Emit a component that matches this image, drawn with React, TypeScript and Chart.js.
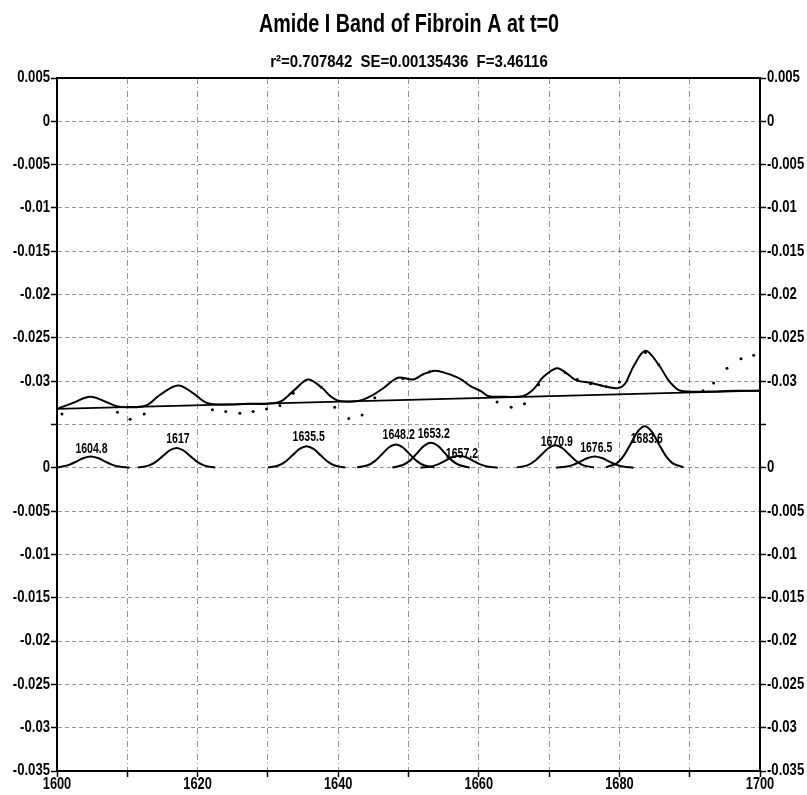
import React, { useEffect, useRef } from 'react';
import { Chart, registerables } from 'chart.js';

Chart.register(...registerables);

const FONT = "'Liberation Sans', Arial, sans-serif";

const TITLE = 'Amide I Band of Fibroin A at t=0';
const SUBTITLE = 'r²=0.707842  SE=0.00135436  F=3.46116';

// upper panel values are shifted by this amount onto the shared axis
const UPPER_OFFSET = 0.04;

// y tick labels, top to bottom (upper panel, boundary, lower panel)
const yTickLabels = [
  '0.005', '0', '-0.005', '-0.01', '-0.015', '-0.02', '-0.025', '-0.03',
  '',
  '0', '-0.005', '-0.01', '-0.015', '-0.02', '-0.025', '-0.03', '-0.035',
];
const xTickLabels = ['1600', '1620', '1640', '1660', '1680', '1700'];

// upper panel: linear baseline
const baselineX = [1600, 1700];
const baselineY = [-0.0332, -0.0311];

// upper panel: fitted curve
const fitX = [
  1600, 1602.3, 1604.7, 1607.0, 1608.5, 1610.1, 1612.7, 1614.6, 1617.2, 1619.4,
  1621.3, 1624.6, 1627.0, 1630.0, 1631.9, 1633.8, 1635.7, 1637.6, 1639.0, 1640.2,
  1642.8, 1644.7, 1646.6, 1648.5, 1650.7, 1652.1, 1653.8, 1655.4, 1657.3, 1658.7,
  1660.4, 1661.3, 1663.0, 1666.3, 1667.7, 1669.2, 1671.1, 1672.5, 1673.9, 1676.0,
  1677.9, 1679.8, 1680.8, 1682.0, 1683.7, 1685.5, 1687.0, 1688.4, 1689.8, 1692.6,
  1696.4, 1700,
];
const fitY = [
  -0.0332, -0.0325, -0.0318, -0.0324, -0.0329, -0.0330, -0.0328, -0.0316, -0.0305, -0.0314,
  -0.0325, -0.0327, -0.0326, -0.0326, -0.0323, -0.0310, -0.0298, -0.0307, -0.0318, -0.0323,
  -0.0323, -0.0317, -0.0307, -0.0296, -0.0298, -0.0292, -0.0288, -0.0291, -0.0297, -0.0305,
  -0.0312, -0.0317, -0.0318, -0.0317, -0.0310, -0.0295, -0.0285, -0.0291, -0.0299, -0.0302,
  -0.0306, -0.0308, -0.0303, -0.0283, -0.0265, -0.0280, -0.0299, -0.0310, -0.0312, -0.0312,
  -0.0311, -0.0311,
];

// upper panel: measured data dots
const dotX = [
  1600.7, 1608.6, 1610.4, 1612.4, 1622.1, 1624.0, 1626.0, 1627.9, 1629.8, 1631.7,
  1633.6, 1637.6, 1639.5, 1641.5, 1643.4, 1645.2, 1649.2, 1653.0, 1662.6, 1664.6,
  1666.5, 1668.5, 1672.3, 1674.0, 1675.9, 1678.1, 1680.0, 1683.7, 1685.6, 1691.9,
  1693.4, 1695.3, 1697.3, 1699.1,
];
const dotY = [
  -0.0338, -0.0336, -0.0344, -0.0338, -0.0333, -0.0335, -0.0337, -0.0335, -0.0332, -0.0328,
  -0.0314, -0.0307, -0.0330, -0.0343, -0.0339, -0.0319, -0.0297, -0.0289, -0.0324, -0.0330,
  -0.0326, -0.0304, -0.0290, -0.0298, -0.0303, -0.0306, -0.0301, -0.0267, -0.0281, -0.0311,
  -0.0302, -0.0285, -0.0274, -0.0270,
];

// lower panel: component bands
const peak1X = [1600, 1600.8, 1601.8, 1602.8, 1603.8, 1604.8, 1605.8, 1606.8, 1607.8, 1608.8, 1610.3];
const peak1Y = [0.00005, 0.00014, 0.00037, 0.00075, 0.00113, 0.0013, 0.00113, 0.00075, 0.00037, 0.00014, 0.00002];
const peak2X = [1611.5, 1613, 1614, 1615, 1616, 1617, 1618, 1619, 1620, 1621, 1622.5];
const peak2Y = [0.00003, 0.00025, 0.00066, 0.00132, 0.002, 0.0023, 0.002, 0.00132, 0.00066, 0.00025, 0.00003];
const peak3X = [1630, 1631.5, 1632.5, 1633.5, 1634.5, 1635.5, 1636.5, 1637.5, 1638.5, 1639.5, 1641];
const peak3Y = [0.00004, 0.00027, 0.00072, 0.00144, 0.00218, 0.0025, 0.00218, 0.00144, 0.00072, 0.00027, 0.00004];
const peak4X = [1642.7, 1644.2, 1645.2, 1646.2, 1647.2, 1648.2, 1649.2, 1650.2, 1651.2, 1652.2, 1653.7];
const peak4Y = [0.00004, 0.00029, 0.00077, 0.00155, 0.00235, 0.0027, 0.00235, 0.00155, 0.00077, 0.00029, 0.00004];
const peak5X = [1647.7, 1649.2, 1650.2, 1651.2, 1652.2, 1653.2, 1654.2, 1655.2, 1656.2, 1657.2, 1658.7];
const peak5Y = [0.00004, 0.00032, 0.00083, 0.00167, 0.00253, 0.0029, 0.00253, 0.00167, 0.00083, 0.00032, 0.00004];
const peak6X = [1651.7, 1653.2, 1654.2, 1655.2, 1656.2, 1657.2, 1658.2, 1659.2, 1660.2, 1661.2, 1662.7];
const peak6Y = [0.00002, 0.00015, 0.0004, 0.0008, 0.00122, 0.0014, 0.00122, 0.0008, 0.0004, 0.00015, 0.00002];
const peak7X = [1665.4, 1666.9, 1667.9, 1668.9, 1669.9, 1670.9, 1671.9, 1672.9, 1673.9, 1674.9, 1676.4];
const peak7Y = [0.00004, 0.00028, 0.00075, 0.0015, 0.00226, 0.0026, 0.00226, 0.0015, 0.00075, 0.00028, 0.00004];
const peak8X = [1671, 1672.5, 1673.5, 1674.5, 1675.5, 1676.5, 1677.5, 1678.5, 1679.5, 1680.5, 1682];
const peak8Y = [0.00002, 0.00014, 0.00037, 0.00075, 0.00113, 0.0013, 0.00113, 0.00075, 0.00037, 0.00014, 0.00002];
const peak9X = [1678.1, 1679.6, 1680.6, 1681.6, 1682.6, 1683.6, 1684.6, 1685.6, 1686.6, 1687.6, 1689.1];
const peak9Y = [0.00007, 0.00052, 0.00138, 0.00276, 0.00418, 0.0048, 0.00418, 0.00276, 0.00138, 0.00052, 0.00007];

const peakLabels = ['1604.8', '1617', '1635.5', '1648.2', '1653.2', '1657.2', '1670.9', '1676.5', '1683.6'];
const peakLabelX = [1604.9, 1617.2, 1635.8, 1648.6, 1653.6, 1657.6, 1671.1, 1676.7, 1683.9];
const peakLabelY = [0.0022, 0.0033, 0.0035, 0.0038, 0.0039, 0.0016, 0.0030, 0.0023, 0.0033];

const peaksX = [peak1X, peak2X, peak3X, peak4X, peak5X, peak6X, peak7X, peak8X, peak9X];
const peaksY = [peak1Y, peak2Y, peak3Y, peak4Y, peak5Y, peak6Y, peak7Y, peak8Y, peak9Y];

const pts = (xs: number[], ys: number[], off = 0) => xs.map((x, i) => ({ x, y: ys[i] + off }));

// draws horizontally condensed text (the original uses a narrow face)
const narrowText = (
  ctx: CanvasRenderingContext2D, text: string, x: number, y: number,
  size: number, sx: number, align: CanvasTextAlign,
) => {
  ctx.save();
  ctx.translate(x, y);
  ctx.scale(sx, 1);
  ctx.font = `bold ${size}px ${FONT}`;
  ctx.textAlign = align;
  ctx.textBaseline = 'middle';
  ctx.fillStyle = '#000';
  ctx.fillText(text, 0, 0);
  ctx.restore();
};

const decorPlugin = {
  id: 'decor',
  afterDatasetsDraw(chart: any) {
    const { ctx, chartArea, scales } = chart;
    ctx.save();
    // top frame
    ctx.strokeStyle = '#000';
    ctx.lineWidth = 2;
    ctx.beginPath();
    ctx.moveTo(chartArea.left, chartArea.top);
    ctx.lineTo(chartArea.right, chartArea.top);
    ctx.stroke();
    ctx.restore();
    // peak labels
    peakLabels.forEach((t, i) => {
      const x = scales.x.getPixelForValue(peakLabelX[i]);
      const y = scales.y.getPixelForValue(peakLabelY[i]);
      narrowText(ctx, t, x, y, 14, 0.75, 'center');
    });
    // y tick labels (both sides)
    yTickLabels.forEach((t, idx) => {
      if (!t) return;
      const v = (9 - idx) * 0.005;
      const y = scales.y.getPixelForValue(v);
      narrowText(ctx, t, chartArea.left - 7, y, 16, 0.82, 'right');
      narrowText(ctx, t, chartArea.right + 7, y, 16, 0.82, 'left');
    });
    // x tick labels
    xTickLabels.forEach((t) => {
      const x = scales.x.getPixelForValue(Number(t));
      narrowText(ctx, t, x, chartArea.bottom + 14, 16, 0.8, 'center');
    });
    // titles
    narrowText(ctx, TITLE, 409, 25, 25, 0.79, 'center');
    narrowText(ctx, SUBTITLE, 409, 62, 17, 0.88, 'center');
  },
};

export default function App() {
  const ref = useRef<HTMLCanvasElement | null>(null);
  useEffect(() => {
    if (!ref.current) return;
    const line = (data: any[], w = 2) => ({
      data,
      showLine: true,
      borderColor: '#000',
      borderWidth: w,
      pointRadius: 0,
      tension: 0.35,
      fill: false,
    });
    const datasets: any[] = [
      line(pts(baselineX, baselineY, UPPER_OFFSET), 1.8),
      line(pts(fitX, fitY, UPPER_OFFSET), 2),
      {
        data: pts(dotX, dotY, UPPER_OFFSET),
        showLine: false,
        pointRadius: 1.5,
        pointBackgroundColor: '#000',
        pointBorderWidth: 0,
      },
      ...peaksX.map((xs, i) => line(pts(xs, peaksY[i]), 2)),
    ];
    const yTicks = (scale: any) => {
      scale.ticks = yTickLabels.map((_, idx) => ({ value: (9 - idx) * 0.005 }));
    };
    const tickGrid = {
      tickColor: '#000',
      tickLength: 6,
      tickWidth: 1.5,
      tickBorderDash: [],
    };
    const chart = new Chart(ref.current, {
      type: 'scatter',
      data: { datasets },
      options: {
        animation: false,
        responsive: false,
        devicePixelRatio: 1,
        layout: { padding: { top: 78, left: 0, right: 0, bottom: 0 } },
        plugins: { legend: { display: false }, tooltip: { enabled: false } },
        scales: {
          x: {
            type: 'linear',
            min: 1600,
            max: 1700,
            afterBuildTicks: (scale: any) => {
              const t = [];
              for (let v = 1600; v <= 1700; v += 10) t.push({ value: v });
              scale.ticks = t;
            },
            afterFit: (scale: any) => { scale.height = 24; },
            ticks: { display: false, autoSkip: false },
            grid: { color: 'rgba(0,0,0,0.42)', lineWidth: 1, ...tickGrid },
            border: { display: true, color: '#000', width: 2, dash: [6, 3, 1, 3] },
          },
          y: {
            type: 'linear',
            min: -0.035,
            max: 0.045,
            position: 'left',
            afterBuildTicks: yTicks,
            afterFit: (scale: any) => { scale.width = 57; },
            ticks: { display: false, autoSkip: false },
            grid: { color: 'rgba(0,0,0,0.42)', lineWidth: 1, ...tickGrid },
            border: { display: true, color: '#000', width: 2, dash: [4, 3] },
          },
          y2: {
            type: 'linear',
            min: -0.035,
            max: 0.045,
            position: 'right',
            afterBuildTicks: yTicks,
            afterFit: (scale: any) => { scale.width = 47; },
            ticks: { display: false, autoSkip: false },
            grid: { drawOnChartArea: false, ...tickGrid },
            border: { display: true, color: '#000', width: 2 },
          },
        },
      } as any,
      plugins: [decorPlugin],
    } as any);
    return () => chart.destroy();
  }, []);
  return (
    <div style={{ position: 'fixed', left: 0, top: 0, width: 807, height: 795, background: '#fff' }}>
      <canvas ref={ref} width={807} height={795} style={{ width: 807, height: 795 }} />
    </div>
  );
}
